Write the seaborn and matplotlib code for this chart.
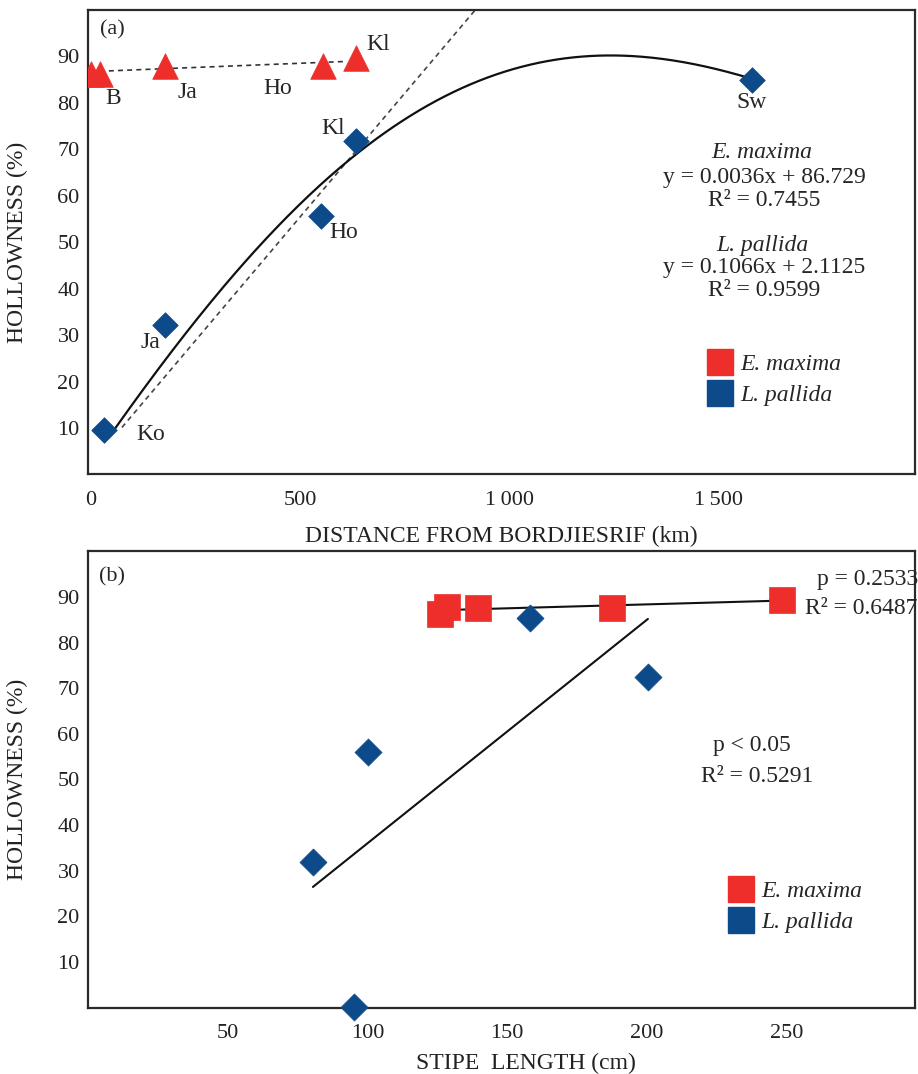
import numpy as np
import pandas as pd
import matplotlib
matplotlib.use("Agg")
import matplotlib.pyplot as plt
from matplotlib.lines import Line2D
from matplotlib.font_manager import FontProperties
import seaborn as sns

# ---------------- data : panel (a) ----------------
emax_a_site = ["B", "Ko", "Ja", "Ho", "Kl"]
emax_a_dist = [0, 22, 178, 556, 634]
emax_a_hollow = [86.3, 86.3, 87.9, 88.0, 89.6]
lpal_a_site = ["Ko", "Ja", "Ho", "Kl", "Sw"]
lpal_a_dist = [31, 177, 550, 634, 1580]
lpal_a_hollow = [9.6, 32.1, 55.7, 71.8, 84.9]
emax_a_fit = [0.0036, 86.729]   # y = 0.0036x + 86.729
lpal_a_fit = [0.1066, 2.1125]   # y = 0.1066x + 2.1125
# solid trend curve of L. pallida
lpal_a_curve_x = [58, 218, 333, 500, 626, 882, 960, 1042, 1121, 1257, 1400, 1486, 1579]
lpal_a_curve_y = [10.2, 28.3, 42.5, 57.6, 69.9, 82.5, 85.4, 87.8, 89.5, 90.3, 89.5, 87.5, 84.9]
a_xticks = [0, 500, 1000, 1500]
a_xticklabels = ["0", "500", "1\u2009000", "1\u2009500"]

# ---------------- data : panel (b) ----------------
emax_b_stipe = [126.0, 128.5, 139.6, 187.5, 248.4]
emax_b_hollow = [86.3, 87.9, 87.7, 87.7, 89.4]
lpal_b_stipe = [80.5, 95.2, 100.2, 158.2, 200.4]
lpal_b_hollow = [31.9, 0.1, 56.0, 85.4, 72.5]
b_xticks = [50, 100, 150, 200, 250]
yticks = [10, 20, 30, 40, 50, 60, 70, 80, 90]

RED = "#ee2e2a"
BLUE = "#0d4a8a"

sns.set_style("white")
plt.rcParams["font.family"] = ["Liberation Serif", "DejaVu Serif"]
plt.rcParams["axes.unicode_minus"] = False

W, H = 918, 1074
fig = plt.figure(figsize=(W / 100, H / 100), dpi=100)


def fbox(l, t, r, b):
    return [l / W, 1 - b / H, (r - l) / W, (b - t) / H]


def ftext(x, y, s, **kw):
    kw.setdefault("ha", "center")
    kw.setdefault("va", "center")
    kw.setdefault("fontsize", 17)
    fig.text(x / W, 1 - y / H, s, **kw)


ax1 = fig.add_axes(fbox(88, 10, 915, 474.4))
ax2 = fig.add_axes(fbox(88, 551.4, 915, 1007.6))

for ax in (ax1, ax2):
    for sp in ax.spines.values():
        sp.set_color("#2a2a2a")
        sp.set_linewidth(1.6)
    ax.tick_params(axis="both", direction="in", length=13, width=1.3,
                   color="#2a2a2a", labelsize=16, labelcolor="#222222",
                   top=False, right=False)
    ax.tick_params(axis="y", pad=6)
    ax.tick_params(axis="x", pad=12)
    ax.set_ylim(0, 100)
    ax.set_yticks(yticks)
    ax.set_ylabel("HOLLOWNESS (%)", fontsize=17, color="#222222")
    ax.yaxis.set_label_coords(-0.073, 0.5)

# ---------------- panel (a) ----------------
ax1.set_xlim(-6, 1968)
ax1.set_xticks(a_xticks)
ax1.set_xticklabels(a_xticklabels)
ax1.set_xlabel("DISTANCE FROM BORDJIESRIF (km)", fontsize=17, color="#222222")
ax1.xaxis.set_label_coords(0.5, -0.11)

# E. maxima linear fit (dashed)
xe = np.array([min(emax_a_dist), 610])
sns.lineplot(x=xe, y=np.polyval(emax_a_fit, xe), ax=ax1, color="#333333",
             linestyle=(0, (3, 2.5)), linewidth=1.2, zorder=2)
# L. pallida linear fit (dashed)
xl = np.array([75, 1000])
sns.lineplot(x=xl, y=np.polyval(lpal_a_fit, xl), ax=ax1, color="#444444",
             linestyle=(0, (3, 2.5)), linewidth=1.2, zorder=2)
# L. pallida polynomial trend (solid), smoothed through the read-off samples
coef = np.polyfit(lpal_a_curve_x, lpal_a_curve_y, 4)
xc = np.linspace(min(lpal_a_curve_x), max(lpal_a_curve_x), 300)
sns.lineplot(x=xc, y=np.polyval(coef, xc), ax=ax1, color="#111111",
             linewidth=1.6, zorder=2)

sns.scatterplot(x=emax_a_dist, y=emax_a_hollow, ax=ax1, marker="^", s=340,
                color=RED, edgecolor=RED, linewidth=0.5, zorder=4)
sns.scatterplot(x=lpal_a_dist, y=lpal_a_hollow, ax=ax1, marker="D", s=170,
                color=BLUE, edgecolor=BLUE, linewidth=0.5, zorder=4)

# site labels (panel a)
ftext(113, 98, "B")
ftext(187, 93, "Ja")
ftext(278, 89, "Ho")
ftext(378, 45, "Kl")
ftext(333, 128, "Kl")
ftext(344, 233, "Ho")
ftext(150, 343, "Ja")
ftext(151, 435, "Ko")
ftext(752, 103, "Sw")
ftext(112, 30, "(a)", fontsize=16)

# equations (panel a)
ftext(762, 152, "E. maxima", style="italic")
ftext(764, 178, "y = 0.0036x + 86.729")
ftext(764, 200, "R\u00b2 = 0.7455")
ftext(762, 245, "L. pallida", style="italic")
ftext(764, 268, "y = 0.1066x + 2.1125")
ftext(764, 291, "R\u00b2 = 0.9599")

legprop = FontProperties(family="Liberation Serif", style="italic", size=17)
handles = [Line2D([], [], marker="s", ls="", ms=19, color=RED, mec=RED),
           Line2D([], [], marker="s", ls="", ms=19, color=BLUE, mec=BLUE)]
labels = ["E. maxima", "L. pallida"]
ax1.legend(handles, labels, loc="center left",
           bbox_to_anchor=(708 / W, 1 - 380 / H), bbox_transform=fig.transFigure,
           frameon=False, borderpad=0, borderaxespad=0, handlelength=1.0,
           handletextpad=0.35, labelspacing=0.4, prop=legprop)

# ---------------- panel (b) ----------------
ax2.set_xlim(0, 296)
ax2.set_xticks(b_xticks)
ax2.set_xlabel("STIPE  LENGTH (cm)", fontsize=17, color="#222222")
ax2.xaxis.set_label_coords(0.53, -0.1)

for xs, ys in ((emax_b_stipe, emax_b_hollow), (lpal_b_stipe, lpal_b_hollow)):
    c = np.polyfit(xs, ys, 1)
    xx = np.array([min(xs), max(xs)])
    sns.lineplot(x=xx, y=np.polyval(c, xx), ax=ax2, color="#111111",
                 linewidth=1.5, zorder=2)

sns.scatterplot(x=emax_b_stipe, y=emax_b_hollow, ax=ax2, marker="s", s=360,
                color=RED, edgecolor=RED, linewidth=0.5, zorder=4)
sns.scatterplot(x=lpal_b_stipe, y=lpal_b_hollow, ax=ax2, marker="D", s=190,
                color=BLUE, edgecolor=BLUE, linewidth=0.5, zorder=4,
                clip_on=False)

ftext(112, 577, "(b)", fontsize=16)
ftext(817, 580, "p = 0.2533", ha="left")
ftext(805, 608, "R\u00b2 = 0.6487", ha="left")
ftext(752, 745, "p < 0.05")
ftext(757, 777, "R\u00b2 = 0.5291")

ax2.legend(handles, labels, loc="center left",
           bbox_to_anchor=(729 / W, 1 - 907 / H), bbox_transform=fig.transFigure,
           frameon=False, borderpad=0, borderaxespad=0, handlelength=1.0,
           handletextpad=0.35, labelspacing=0.4, prop=legprop)

fig.savefig("out.png", dpi=100)
